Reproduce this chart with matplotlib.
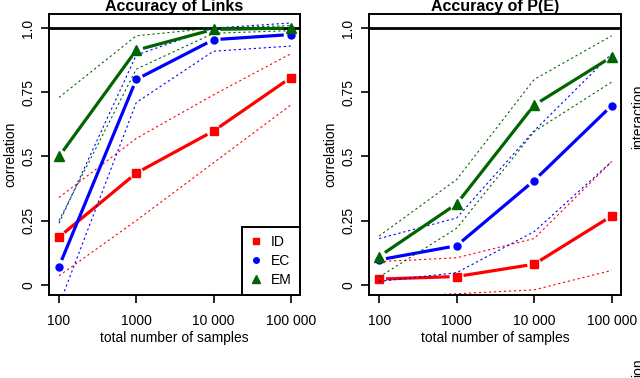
import numpy as np
import matplotlib
matplotlib.use("Agg")
import matplotlib.pyplot as plt
from matplotlib.lines import Line2D

plt.rcParams['font.family'] = ['Liberation Sans', 'DejaVu Sans']

samples = [100, 1000, 10000, 100000]
tick_labels = ["100", "1000", "10 000", "100 000"]
methods = ["ID", "EC", "EM"]

# Accuracy of Links
links_id = [0.186, 0.435, 0.599, 0.807]
links_ec = [0.071, 0.800, 0.955, 0.975]
links_em = [0.500, 0.914, 0.995, 1.000]
links_id_hi = [0.34, 0.57, 0.74, 0.90]
links_id_lo = [0.035, 0.25, 0.475, 0.70]
links_ec_hi = [0.24, 0.895, 1.00, 1.02]
links_ec_lo = [-0.08, 0.71, 0.91, 0.93]
links_em_hi = [0.73, 0.97, 1.00, 1.01]
links_em_lo = [0.25, 0.84, 0.98, 0.99]

# Accuracy of P(E)
pe_id = [0.022, 0.032, 0.080, 0.268]
pe_ec = [0.097, 0.152, 0.406, 0.698]
pe_em = [0.110, 0.315, 0.700, 0.888]
pe_id_hi = [0.09, 0.105, 0.18, 0.48]
pe_id_lo = [-0.05, -0.035, -0.02, 0.056]
pe_ec_hi = [0.18, 0.26, 0.60, 0.90]
pe_ec_lo = [0.013, 0.047, 0.207, 0.48]
pe_em_hi = [0.19, 0.41, 0.80, 0.97]
pe_em_lo = [0.03, 0.22, 0.597, 0.79]

colors = ["#ff0000", "#0000ff", "#006400"]
markers = ["s", "o", "^"]
msizes = [6, 5, 6.5]


def gapped_line(ax, x, y, color, gap=7):
    """Draws R style type='b' segments that stop short of the points"""
    pts = ax.transData.transform(np.column_stack([x, y]))
    inv = ax.transData.inverted()
    for a, b in zip(pts[:-1], pts[1:]):
        d = b - a
        n = np.hypot(*d)
        if n <= 2 * gap:
            continue
        u = d / n
        seg = inv.transform(np.array([a + u * gap, b - u * gap]))
        ax.plot(seg[:, 0], seg[:, 1], color=color, lw=2.3,
                solid_capstyle="butt")


def panel(ax, title, means, his, los):
    ax.axhline(1.0, color="black", lw=2)
    for m, hi, lo, c, mk, ms in zip(means, his, los, colors, markers, msizes):
        ax.plot(samples, hi, color=c, lw=0.8, ls=(0, (2, 2.5)))
        ax.plot(samples, lo, color=c, lw=0.8, ls=(0, (2, 2.5)))
        gapped_line(ax, samples, m, c)
        ax.plot(samples, m, ls="none", marker=mk, ms=ms, color=c, mec=c)
    ax.set_xticks(samples)
    ax.set_xticklabels(tick_labels)
    ax.minorticks_off()
    ax.set_yticks([0, 0.25, 0.5, 0.75, 1.0])
    ax.set_yticklabels(["0", "0.25", "0.5", "0.75", "1.0"], rotation=90,
                       va="center")
    ax.tick_params(direction="out", length=6, width=1.2, labelsize=10,
                   pad=8)
    ax.tick_params(axis="y", pad=4)
    for s in ax.spines.values():
        s.set_linewidth(1.4)
    ax.set_xlabel("total number of samples", fontsize=10, labelpad=2)
    ax.set_ylabel("correlation", fontsize=10, labelpad=3)
    ax.text(0.5, 1.012, title, transform=ax.transAxes, ha="center",
            va="baseline", fontsize=11.5, fontweight="bold")


def main():
    fig = plt.figure(figsize=(6.4, 3.78), dpi=100)
    ax1 = fig.add_axes([49 / 640, 83 / 378, 251 / 640, 281 / 378])
    ax2 = fig.add_axes([369 / 640, 83 / 378, 252 / 640, 281 / 378])

    for ax in (ax1, ax2):
        ax.set_xscale("log")
        ax.set_xlim(10 ** 1.87, 10 ** 5.12)
        ax.set_ylim(-0.04, 1.055)

    panel(ax1, "Accuracy of Links",
          [links_id, links_ec, links_em],
          [links_id_hi, links_ec_hi, links_em_hi],
          [links_id_lo, links_ec_lo, links_em_lo])
    panel(ax2, "Accuracy of P(E)",
          [pe_id, pe_ec, pe_em],
          [pe_id_hi, pe_ec_hi, pe_em_hi],
          [pe_id_lo, pe_ec_lo, pe_em_lo])

    handles = [Line2D([], [], ls="none", marker=mk, ms=ms - 1, color=c)
               for mk, ms, c in zip(markers, msizes, colors)]
    leg = ax1.legend(handles, methods, loc="lower right", borderaxespad=0,
                     fancybox=False, edgecolor="black", fontsize=10,
                     handlelength=0.8, handletextpad=0.7,
                     labelspacing=0.35, borderpad=0.6, framealpha=1)
    leg.get_frame().set_linewidth(1.4)

    # labels of a neighbouring panel, cut off at the right edge
    fig.text(638 / 640, 1 - 117 / 378, "interaction", rotation=90,
             ha="center", va="center", fontsize=10)
    fig.text(638 / 640, 1 - 358 / 378, "ion", rotation=90,
             ha="center", va="top", fontsize=10)

    fig.savefig("out.png", dpi=100)


if __name__ == "__main__":
    main()
